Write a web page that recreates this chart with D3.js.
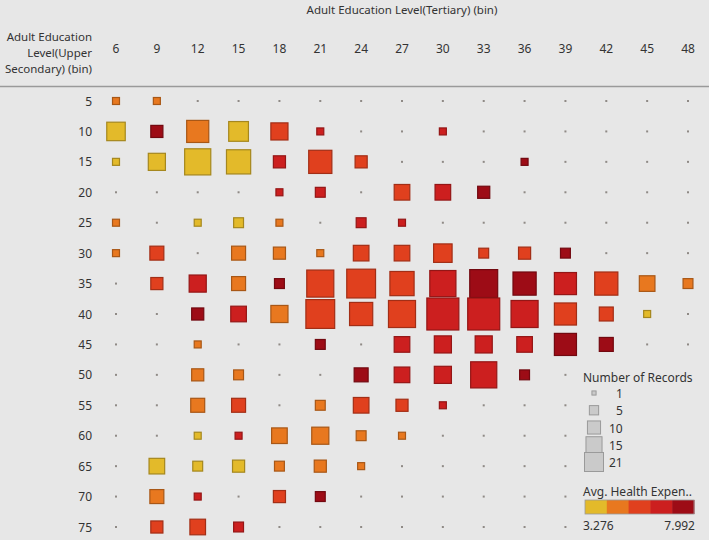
<!DOCTYPE html>
<html>
<head>
<meta charset="utf-8">
<script src="https://cdn.jsdelivr.net/npm/d3@7"></script>
<style>
  html, body { margin: 0; padding: 0; background: #e7e7e7; }
  svg { display: block; }
  text { font-family: "Noto Sans", Lato, sans-serif; fill: #333; }
</style>
</head>
<body>
<svg id="chart" width="709" height="540"></svg>
<script>
// ---- data ----
const colBins = [6, 9, 12, 15, 18, 21, 24, 27, 30, 33, 36, 39, 42, 45, 48];
const rowBins = [5, 10, 15, 20, 25, 30, 35, 40, 45, 50, 55, 60, 65, 70, 75];

// one entry per mark: upper secondary bin (row), tertiary bin (column), number of records, avg. health expenditure
const recRow = [
  5, 5,
  10, 10, 10, 10, 10, 10, 10,
  15, 15, 15, 15, 15, 15, 15, 15,
  20, 20, 20, 20, 20,
  25, 25, 25, 25, 25, 25,
  30, 30, 30, 30, 30, 30, 30, 30, 30, 30, 30,
  35, 35, 35, 35, 35, 35, 35, 35, 35, 35, 35, 35, 35, 35,
  40, 40, 40, 40, 40, 40, 40, 40, 40, 40, 40, 40,
  45, 45, 45, 45, 45, 45, 45, 45,
  50, 50, 50, 50, 50, 50, 50,
  55, 55, 55, 55, 55, 55,
  60, 60, 60, 60, 60, 60,
  65, 65, 65, 65, 65, 65,
  70, 70, 70, 70,
  75, 75, 75
];
const recCol = [
  6, 9,
  6, 9, 12, 15, 18, 21, 30,
  6, 9, 12, 15, 18, 21, 24, 36,
  18, 21, 27, 30, 33,
  6, 12, 15, 18, 24, 27,
  6, 9, 15, 18, 21, 24, 27, 30, 33, 36, 39,
  9, 12, 15, 18, 21, 24, 27, 30, 33, 36, 39, 42, 45, 48,
  12, 15, 18, 21, 24, 27, 30, 33, 36, 39, 42, 45,
  12, 21, 27, 30, 33, 36, 39, 42,
  12, 15, 24, 27, 30, 33, 36,
  12, 15, 21, 24, 27, 30,
  12, 15, 18, 21, 24, 27,
  9, 12, 15, 18, 21, 24,
  9, 12, 18, 21,
  9, 12, 15
];
const recCount = [
  1, 1,
  7, 3, 10, 8, 6, 1, 1,
  1, 6, 14, 12, 3, 11, 3, 1,
  1, 2, 5, 5, 3,
  1, 1, 2, 1, 2, 1,
  1, 4, 4, 3, 1, 5, 5, 7, 2, 3, 2,
  3, 6, 4, 2, 15, 17, 12, 14, 16, 11, 10, 11, 5, 2,
  3, 5, 6, 17, 11, 15, 21, 21, 15, 10, 4, 1,
  1, 2, 5, 6, 6, 5, 10, 4,
  3, 2, 4, 5, 6, 14, 2,
  4, 4, 2, 5, 3, 1,
  1, 1, 5, 6, 2, 1,
  5, 2, 3, 2, 3, 1,
  4, 1, 3, 2,
  3, 5, 2
];
const recHealth = [
  4.9, 5.0,
  3.6, 7.4, 4.6, 3.7, 5.8, 6.5, 6.4,
  3.9, 3.8, 3.5, 3.7, 6.2, 5.7, 5.9, 7.9,
  6.9, 6.4, 5.9, 6.8, 7.3,
  5.0, 3.9, 4.0, 4.9, 6.3, 6.5,
  4.8, 5.7, 4.6, 4.7, 4.9, 5.9, 5.6, 5.5, 5.8, 5.7, 7.6,
  5.8, 6.7, 4.7, 7.9, 5.7, 5.6, 5.8, 6.4, 7.3, 7.5, 6.6, 5.6, 4.8, 4.9,
  7.2, 6.9, 4.7, 5.7, 5.6, 5.7, 6.5, 6.5, 6.4, 5.6, 5.7, 3.8,
  4.9, 7.4, 6.8, 6.5, 6.6, 6.3, 7.5, 7.6,
  4.8, 4.9, 7.3, 6.9, 6.7, 6.5, 7.9,
  4.8, 5.8, 4.9, 5.7, 5.7, 6.3,
  4.0, 6.8, 4.8, 4.7, 4.9, 5.0,
  3.6, 3.9, 3.8, 4.9, 4.8, 5.0,
  4.7, 6.6, 5.9, 7.6,
  5.9, 5.6, 6.4
];

const healthMin = 3.276, healthMax = 7.992;
const colorSteps = ["#e3ba2a", "#e8781f", "#e0401e", "#cc1f1f", "#9d0c16"];
const sizeLegendCounts = [1, 5, 10, 15, 21];

const colTitle = "Adult Education Level(Tertiary) (bin)";
const rowTitleLines = ["Adult Education", "Level(Upper", "Secondary) (bin)"];

// ---- drawing ----
const svg = d3.select("#chart");
const W = 709, H = 540;
const bg = "#e7e7e7";

svg.append("rect").attr("width", W).attr("height", H).attr("fill", bg);

const x = d3.scaleLinear().domain([6, 48]).range([116, 688]);
const y = d3.scaleLinear().domain([5, 75]).range([101, 527]);
const side = d3.scaleSqrt().domain([0, 21]).range([0, 32]);
const color = d3.scaleQuantize().domain([healthMin, healthMax]).range(colorSteps);

// headers
svg.append("text").attr("x", 402).attr("y", 14).attr("text-anchor", "middle")
  .style("font-size", "11.5px").text(colTitle);

svg.append("g").selectAll("text").data(rowTitleLines).join("text")
  .attr("x", 92).attr("y", (d, i) => 41 + i * 16)
  .attr("text-anchor", "end").style("font-size", "11.5px").text(d => d);

svg.append("g").selectAll("text").data(colBins).join("text")
  .attr("x", d => x(d)).attr("y", 53).attr("text-anchor", "middle")
  .style("font-size", "12px").text(d => d);

svg.append("line").attr("x1", 0).attr("x2", W).attr("y1", 86.5).attr("y2", 86.5)
  .attr("stroke", "#9a9a9a").attr("stroke-width", 1.5);

svg.append("g").selectAll("text").data(rowBins).join("text")
  .attr("x", 92).attr("y", d => y(d) + 4.5).attr("text-anchor", "end")
  .style("font-size", "12px").text(d => d);

// background dots for every cell
const cells = [];
rowBins.forEach(r => colBins.forEach(c => cells.push([r, c])));
svg.append("g").selectAll("rect").data(cells).join("rect")
  .attr("x", d => x(d[1]) - 1).attr("y", d => y(d[0]) - 1)
  .attr("width", 2).attr("height", 2).attr("fill", "#8f8a86");

// marks
const marks = recRow.map((r, i) => ({ r, c: recCol[i], n: recCount[i], v: recHealth[i] }));
svg.append("g").selectAll("rect").data(marks).join("rect")
  .attr("x", d => x(d.c) - side(d.n) / 2)
  .attr("y", d => y(d.r) - side(d.n) / 2)
  .attr("width", d => side(d.n)).attr("height", d => side(d.n))
  .attr("fill", d => color(d.v))
  .attr("stroke", d => d3.color(color(d.v)).darker(0.9))
  .attr("stroke-width", 1.2);

// legend panel
const lg = svg.append("g");
lg.append("rect").attr("x", 576).attr("y", 364).attr("width", W - 576).attr("height", H - 364).attr("fill", bg);
lg.append("text").attr("x", 583).attr("y", 382).style("font-size", "12px").text("Number of Records");

const legSide = d3.scaleSqrt().domain([0, 21]).range([0, 19]);
const legY = d3.scalePoint().domain(sizeLegendCounts).range([393, 462]);
lg.append("g").selectAll("rect").data(sizeLegendCounts).join("rect")
  .attr("x", d => Math.max(584, 594 - legSide(d) / 2))
  .attr("y", d => legY(d) - legSide(d) / 2)
  .attr("width", d => Math.min(legSide(d), 594 + legSide(d) / 2 - 584))
  .attr("height", d => legSide(d))
  .attr("fill", "#cacaca").attr("stroke", "#9a9a9a").attr("stroke-width", 1);
lg.append("g").selectAll("text").data(sizeLegendCounts).join("text")
  .attr("x", d => d < 10 ? 616 : 609).attr("y", d => legY(d) + 5)
  .style("font-size", "12px").text(d => d);

lg.append("text").attr("x", 583).attr("y", 496).style("font-size", "12px").text("Avg. Health Expen..");
const cx = d3.scaleBand().domain(d3.range(colorSteps.length)).range([585, 694]);
lg.append("g").selectAll("rect").data(colorSteps).join("rect")
  .attr("x", (d, i) => cx(i)).attr("y", 500).attr("width", cx.bandwidth() + 0.5).attr("height", 14)
  .attr("fill", d => d);
lg.append("rect").attr("x", 585).attr("y", 500).attr("width", 109).attr("height", 14)
  .attr("fill", "none").attr("stroke", "#999").attr("stroke-width", 0.8);
lg.append("text").attr("x", 583).attr("y", 530).style("font-size", "12px").text(d3.format(".3f")(healthMin));
lg.append("text").attr("x", 695).attr("y", 530).attr("text-anchor", "end").style("font-size", "12px").text(d3.format(".3f")(healthMax));
</script>
</body>
</html>
